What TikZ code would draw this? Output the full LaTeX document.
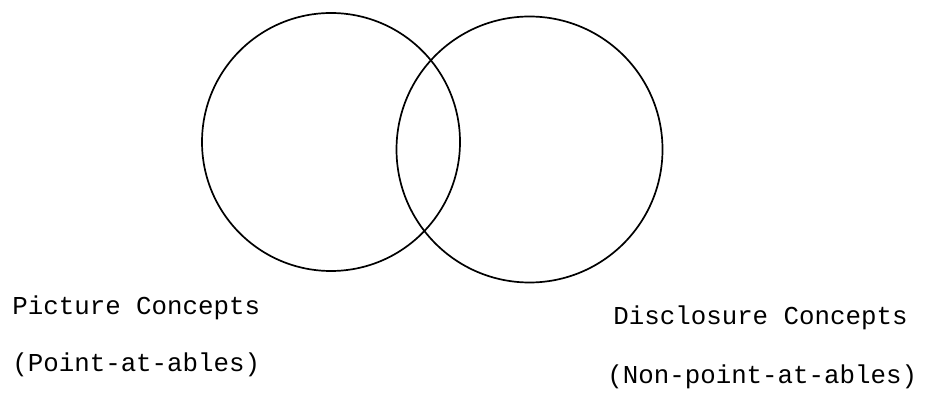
\documentclass[tikz,border=0pt]{standalone}
\usepackage{fontspec}
\setmonofont{Liberation Mono}
\usetikzlibrary{positioning}

\begin{document}
\begin{tikzpicture}[x=0.5pt,y=0.5pt,
    conceptset/.style={draw,circle,line width=0.85pt,inner sep=0pt},
    conceptlabel/.style={anchor=base west,inner sep=0pt,
      font=\ttfamily\fontsize{12.9}{15}\selectfont}]

  % Frame of the page
  \useasboundingbox (0,0) rectangle (929,396);

  % The two overlapping sets
  \node[conceptset,minimum size=129pt] (pictureset) at (331,254) {};
  \node[conceptset,minimum size=133pt] (disclosureset) at (529.5,246.5) {};

  % Left labels
  \node[conceptlabel] (picturename) at (12,82) {Picture Concepts};
  \node[conceptlabel] (pictureinfo) at (12,25) {(Point-at-ables)};

  % Right labels
  \node[conceptlabel] (disclosurename) at (613,72) {Disclosure Concepts};
  \node[conceptlabel] (disclosureinfo) at (607,13) {(Non-point-at-ables)};

\end{tikzpicture}
\end{document}
